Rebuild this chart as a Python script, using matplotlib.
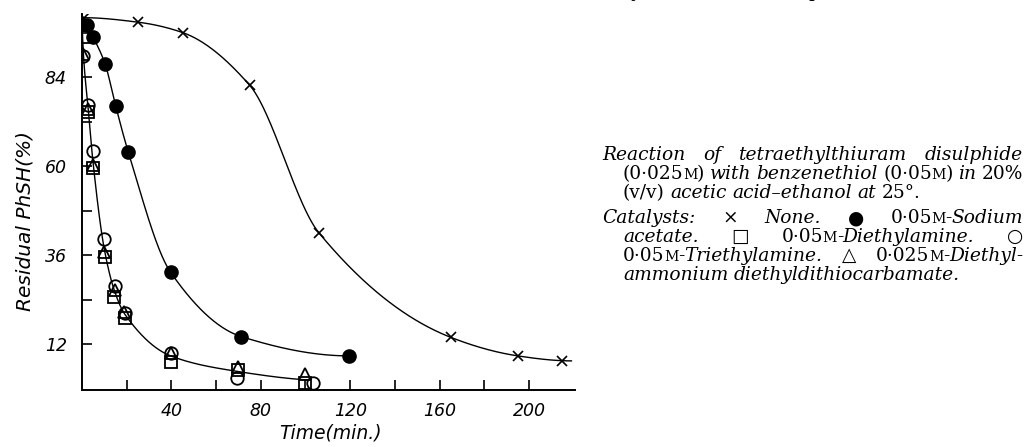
import numpy as np
import matplotlib
matplotlib.use("Agg")
import matplotlib.pyplot as plt
from matplotlib.transforms import IdentityTransform

W, H, DPI = 1026, 447, 100

# ---------------- data ----------------
t_start, y_start = 0.0, 100.0

t_none = [1, 25, 45, 75, 106, 165, 195, 215]
y_none = [100.0, 98.8, 96.0, 81.8, 42.0, 13.8, 8.8, 7.5]

t_sodium = [2.4, 5.1, 10.4, 15.1, 20.7, 39.7, 71.3, 119.5]
y_sodium = [98.0, 94.7, 87.4, 76.1, 63.8, 31.3, 14.0, 8.8]

t_diethylamine = [0.3, 2.8, 4.8, 10.3, 14.3, 19.4, 39.8, 69.7, 99.8]
y_diethylamine = [94.8, 74.6, 59.4, 35.4, 24.7, 18.9, 7.2, 5.0, 1.6]

t_triethylamine = [0.6, 2.8, 5.1, 9.7, 14.8, 19.2, 39.8, 69.5, 103.5]
y_triethylamine = [89.6, 76.4, 64.1, 40.3, 27.6, 20.5, 9.6, 2.9, 1.4]

t_dtc = [0.6, 2.7, 4.8, 10.0, 14.6, 18.9, 39.8, 69.7, 100.0]
y_dtc = [90.3, 75.5, 60.2, 36.9, 26.5, 20.7, 9.5, 5.9, 3.9]

x_major = [40, 80, 120, 160, 200]
x_minor = [20, 60, 100, 140, 180]
y_major = [12, 36, 60, 84]
y_minor = [24, 48, 72, 96]


def pchip(x, y, xn):
    x = np.asarray(x, float)
    y = np.asarray(y, float)
    h = np.diff(x)
    d = np.diff(y) / h
    n = len(x)
    m = np.zeros(n)
    for k in range(1, n - 1):
        if d[k - 1] * d[k] > 0:
            w1 = 2 * h[k] + h[k - 1]
            w2 = h[k] + 2 * h[k - 1]
            m[k] = (w1 + w2) / (w1 / d[k - 1] + w2 / d[k])

    def endslope(h0, h1, d0, d1):
        s = ((2 * h0 + h1) * d0 - h0 * d1) / (h0 + h1)
        if np.sign(s) != np.sign(d0):
            s = 0.0
        elif np.sign(d0) != np.sign(d1) and abs(s) > abs(3 * d0):
            s = 3 * d0
        return s

    m[0] = endslope(h[0], h[1], d[0], d[1])
    m[-1] = endslope(h[-1], h[-2], d[-1], d[-2])
    xn = np.asarray(xn, float)
    idx = np.clip(np.searchsorted(x, xn) - 1, 0, n - 2)
    t = (xn - x[idx]) / h[idx]
    h00 = 2 * t**3 - 3 * t**2 + 1
    h10 = t**3 - 2 * t**2 + t
    h01 = -2 * t**3 + 3 * t**2
    h11 = t**3 - t**2
    return (h00 * y[idx] + h10 * h[idx] * m[idx]
            + h01 * y[idx + 1] + h11 * h[idx] * m[idx + 1])


fig = plt.figure(figsize=(W / DPI, H / DPI), dpi=DPI)
fig.patch.set_facecolor("white")
ax = fig.add_axes([82 / W, 1 - 390 / H, (575 - 82) / W, (390 - 14) / H])
ax.set_xlim(0, 220.6)
ax.set_ylim(-0.4, 101)

lw = 1.0
# curves
tc = np.r_[t_start, t_none]
yc = np.r_[y_start, y_none]
xs = np.linspace(0, 219, 600)
ax.plot(xs, pchip(tc, yc, xs), color="black", lw=lw)

tc = np.r_[t_start, t_sodium]
yc = np.r_[y_start, y_sodium]
xs = np.linspace(0, t_sodium[-1], 500)
ax.plot(xs, pchip(tc, yc, xs), color="black", lw=lw)

t_fast = np.mean([t_diethylamine, t_triethylamine, t_dtc], axis=0)
y_fast = np.mean([y_diethylamine, y_triethylamine, y_dtc], axis=0)
tc = np.r_[t_start, t_fast]
yc = np.r_[y_start, y_fast]
xs = np.linspace(0, t_fast[-1], 600)
ax.plot(xs, pchip(tc, yc, xs), color="black", lw=lw)

# markers
ax.plot(t_none, y_none, ls="none", marker="x", ms=7, mew=1.2, color="black")
ax.plot(t_sodium, y_sodium, ls="none", marker="o", ms=9.5, color="black")
ax.plot(t_diethylamine, y_diethylamine, ls="none", marker="s", ms=8.5,
        mfc="none", mec="black", mew=1.3)
ax.plot(t_dtc, y_dtc, ls="none", marker="^", ms=8.5,
        mfc="none", mec="black", mew=1.3)
ax.plot(t_triethylamine, y_triethylamine, ls="none", marker="o", ms=9,
        mfc="none", mec="black", mew=1.3)

for s in ["top", "right"]:
    ax.spines[s].set_visible(False)
for s in ["left", "bottom"]:
    ax.spines[s].set_linewidth(1.4)

tickfont = dict(family="DejaVu Sans", style="italic", size=12.5)
ax.set_xticks(x_major)
ax.set_xticks(x_minor, minor=True)
ax.set_yticks(y_major)
ax.set_yticks(y_minor, minor=True)
ax.set_xticklabels([str(v) for v in x_major], fontdict=tickfont)
ax.set_yticklabels([str(v) for v in y_major], fontdict=tickfont)
ax.tick_params(axis="both", which="both", direction="in", length=7, width=1.2,
               color="black")
ax.tick_params(axis="x", which="both", pad=9)
ax.tick_params(axis="y", which="both", pad=11)

fig.text(25 / W, 1 - 221 / H, "Residual PhSH(%)", rotation=90, ha="center",
         va="center", family="DejaVu Sans", style="italic", size=14.5)
fig.text(331 / W, 1 - 433 / H, "Time(min.)", ha="center", va="center",
         family="DejaVu Sans", style="italic", size=13.5)

# ---------------- caption text ----------------
FAM = ["DejaVu Serif", "DejaVu Sans"]
caption = [
    (602, 160, True, [[("Reaction", "it")], [("of", "it")],
                      [("tetraethylthiuram", "it")], [("disulphide", "it")]]),
    (623, 179, True, [[("(0·025", "rm"), ("M", "sc"), (")", "rm")],
                      [("with", "it")], [("benzenethiol", "it")],
                      [("(0·05", "rm"), ("M", "sc"), (")", "rm")],
                      [("in", "it")], [("20%", "rm")]]),
    (623, 198, False, [[("(v/v)", "rm")], [("acetic", "it")],
                       [("acid–ethanol", "it")], [("at", "it")],
                       [("25°.", "rm")]]),
    (602, 223, True, [[("Catalysts:", "it")], [("×", "rm")],
                      [("None.", "it")], [("●", "rm")],
                      [("0·05", "rm"), ("M", "sc"), ("-", "rm"),
                       ("Sodium", "it")]]),
    (623, 242, True, [[("acetate.", "it")], [("□", "rm")],
                      [("0·05", "rm"), ("M", "sc"), ("-", "rm"),
                       ("Diethylamine.", "it")], [("○", "rm")]]),
    (623, 261, True, [[("0·05", "rm"), ("M", "sc"), ("-", "rm"),
                       ("Triethylamine.", "it")], [("△", "rm")],
                      [("0·025", "rm"), ("M", "sc"), ("-", "rm"),
                       ("Diethyl-", "it")]]),
    (623, 280, False, [[("ammonium", "it")],
                       [("diethyldithiocarbamate.", "it")]]),
]
RIGHT = 1023
FIT_LINE, FIT_WIDTH = 1, RIGHT - 623
SEG_GAP = -0.5

renderer = fig.canvas.get_renderer()
objs = []
for (x0, yb, just, words) in caption:
    wl = []
    for word in words:
        segs = []
        for (txt, kind) in word:
            t = fig.text(0, H - yb, txt, transform=IdentityTransform(),
                         ha="left", va="baseline", family=FAM,
                         style="italic" if kind == "it" else "normal",
                         color="black")
            segs.append((t, kind))
        wl.append(segs)
    objs.append(wl)


def set_sizes(base):
    for wl in objs:
        for segs in wl:
            for (t, kind) in segs:
                t.set_fontsize(base * (0.76 if kind == "sc" else 1.0))


def seg_width(t):
    return t.get_window_extent(renderer).width


def word_width(segs):
    return sum(seg_width(t) for t, _ in segs) + SEG_GAP * (len(segs) - 1)


base = 12.0
set_sizes(base)
space_factor = 0.30
nat = sum(word_width(s) for s in objs[FIT_LINE])
nat += space_factor * base * DPI / 72 * (len(objs[FIT_LINE]) - 1)
base = base * FIT_WIDTH / nat
set_sizes(base)
space = space_factor * base * DPI / 72

for (x0, yb, just, words), wl in zip(caption, objs):
    widths = [word_width(s) for s in wl]
    if just and len(wl) > 1:
        gap = (RIGHT - x0 - sum(widths)) / (len(wl) - 1)
    else:
        gap = space
    x = x0
    for segs, wdt in zip(wl, widths):
        xx = x
        for (t, kind) in segs:
            t.set_x(xx)
            xx += seg_width(t) + SEG_GAP
        x += wdt + gap

# text of the preceding page line, cut at the top edge (as in the reference)
for (xp, txt) in [(630, "y"), (808, "p"), (953, "(I) (")]:
    fig.text(xp, H + 3, txt, transform=IdentityTransform(), ha="left",
             va="baseline", family=FAM, size=base, color="black")

fig.savefig("out.png", dpi=DPI, facecolor="white")
